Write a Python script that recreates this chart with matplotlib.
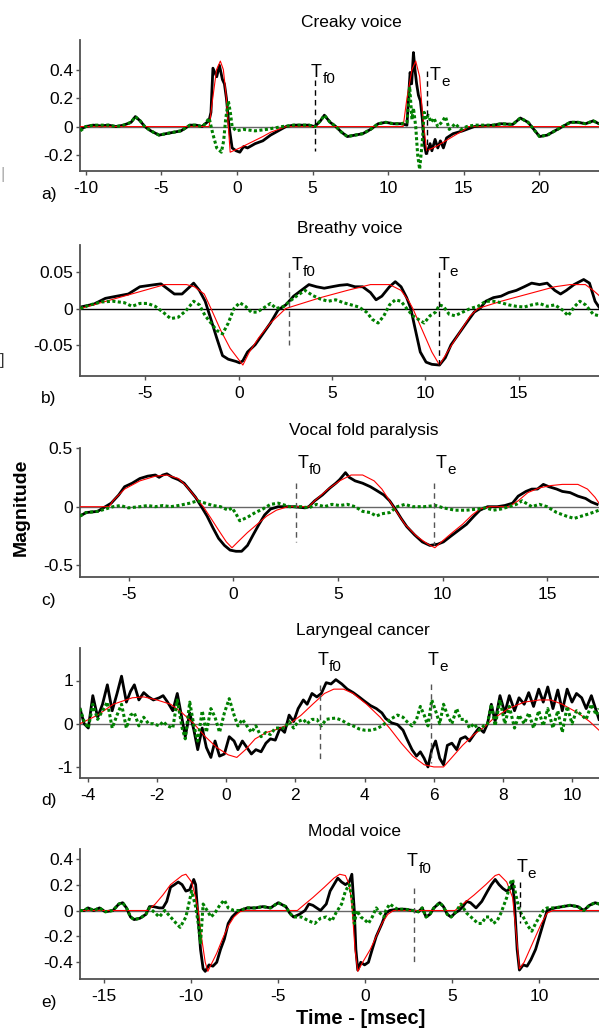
import matplotlib
matplotlib.use('Agg')
import matplotlib.pyplot as plt
from matplotlib.transforms import offset_copy

plt.rcParams['font.family'] = ['Liberation Sans', 'DejaVu Sans']
plt.rcParams['axes.unicode_minus'] = False

# ---------------- a) Creaky voice ----------------
t_a_black = [-10.36, -10.0, -9.5, -9.0, -8.5, -8.0, -7.5, -7.0, -6.72, -6.4, -6.1, -5.7, -5.15, -4.7, -4.2, -3.7,
             -3.11, -2.7, -2.3, -2.1, -1.85, -1.72, -1.59, -1.34, -1.16, -0.96, -0.83, -0.7, -0.52, -0.32, -0.06, 0.19,
             0.44, 0.7, 1.2, 1.71, 2.22, 2.73, 3.24, 3.74, 4.76, 5.14, 5.52, 5.78, 6.16, 6.54, 6.92, 7.3,
             7.81, 8.32, 8.83, 9.34, 9.84, 10.35, 10.86, 11.24, 11.37, 11.45, 11.55, 11.67, 11.77, 11.88, 12.0, 12.13,
             12.26, 12.38, 12.51, 12.64, 12.77, 12.89, 13.1, 13.28, 13.45, 13.65, 13.86, 14.29, 14.93, 15.69, 16.96, 17.47,
             18.23, 18.74, 19.25, 19.63, 20.01, 20.52, 21.02, 21.53, 22.04, 22.55, 23.05, 23.56, 23.94]
black_a = [-0.02, 0.0, 0.01, 0.005, 0.01, 0.0, 0.01, 0.03, 0.07, 0.04, 0.0, -0.03, -0.06, -0.05, -0.04, -0.03,
           0.01, 0.01, 0.0, 0.02, 0.04, 0.1, 0.41, 0.35, 0.43, 0.33, 0.3, 0.2, 0.0, -0.15, -0.17, -0.18,
           -0.14, -0.15, -0.12, -0.1, -0.06, -0.03, 0.0, 0.01, 0.01, 0.0, 0.04, 0.08, 0.03, 0.0, -0.04, -0.07,
           -0.06, -0.05, -0.02, 0.02, 0.03, 0.02, 0.02, 0.01, 0.25, 0.38, 0.3, 0.52, 0.4, 0.3, 0.22, 0.18,
           0.05, -0.12, -0.19, -0.16, -0.12, -0.17, -0.09, -0.15, -0.1, -0.15, -0.08, -0.05, -0.03, 0.0, 0.01, 0.02,
           0.015, 0.06, 0.03, -0.02, -0.07, -0.06, -0.03, 0.0, 0.03, 0.03, 0.02, 0.04, 0.02]
t_a_red = [-10.4, -1.84, -1.6, -1.35, -1.1, -0.9, -0.7, -0.57, -0.45, 0.19, 0.95, 1.71, 2.22, 2.73, 3.24,
           10.99, 11.24, 11.57, 11.82, 12.08, 12.26, 12.54, 13.16, 13.8, 14.43, 15.07, 15.3, 24.0]
red_a = [0, 0, 0.2, 0.4, 0.46, 0.4, 0.2, 0.0, -0.18, -0.15, -0.11, -0.07, -0.04, -0.02, 0,
         0, 0.2, 0.4, 0.46, 0.35, 0.1, -0.17, -0.14, -0.1, -0.06, -0.02, 0, 0]
t_a_green = [-10.36, -10.0, -9.5, -9.0, -8.5, -8.0, -7.5, -7.0, -6.72, -6.4, -6.1, -5.7, -5.15, -4.7, -4.2, -3.7,
             -3.11, -2.7, -2.3, -2.1, -1.84, -1.6, -1.34, -1.03, -0.88, -0.75, -0.57, -0.44, -0.32, -0.06, 0.44, 1.2,
             1.96, 2.47, 2.98, 3.74, 4.76, 5.14, 5.52, 5.78, 6.16, 6.54, 6.92, 7.3, 7.81, 8.32, 8.83, 9.34,
             9.84, 10.35, 10.86, 11.24, 11.37, 11.42, 11.57, 11.67, 11.82, 11.95, 12.08, 12.26, 12.38, 12.51, 12.64, 12.84,
             13.02, 13.28, 13.53, 13.79, 14.04, 14.43, 14.81, 15.19, 15.69, 16.96, 17.47, 18.23, 18.74, 19.25, 19.63, 20.01,
             20.52, 21.02, 21.53, 22.04, 22.55, 23.05, 23.56, 23.94]
green_a = [-0.03, 0.0, 0.01, 0.01, 0.01, 0.0, 0.01, 0.03, 0.07, 0.04, 0.0, -0.03, -0.06, -0.05, -0.04, -0.03,
           0.01, 0.01, 0.0, 0.02, 0.06, -0.05, -0.15, -0.18, -0.1, 0.05, 0.18, 0.1, 0.0, -0.03, -0.02, -0.03,
           -0.02, -0.01, 0.0, 0.01, 0.01, 0.0, 0.04, 0.08, 0.03, 0.0, -0.04, -0.07, -0.06, -0.05, -0.02, 0.02,
           0.03, 0.02, 0.02, 0.03, 0.2, 0.28, 0.05, 0.13, 0.0, -0.2, -0.3, -0.1, 0.1, 0.05, 0.08, 0.03,
           0.06, 0.0, 0.03, 0.07, -0.02, 0.02, -0.02, 0.0, 0.01, 0.01, 0.02, 0.015, 0.06, 0.03, -0.02, -0.07,
           -0.06, -0.03, 0.0, 0.03, 0.03, 0.02, 0.04, 0.02]

# ---------------- b) Breathy voice ----------------
t_b_black = [-8.49, -7.77, -7.15, -6.54, -5.92, -5.3, -4.48, -4.17, -3.86, -3.45, -3.04, -2.62, -2.42, -2.11, -1.8, -1.49,
             -1.19, -0.87, -0.56, -0.15, 0.05, 0.22, 0.47, 0.88, 1.29, 1.7, 2.11, 2.52, 2.94, 3.35, 3.76, 4.17,
             4.58, 4.99, 5.41, 5.82, 6.23, 6.64, 7.06, 7.36, 7.67, 8.08, 8.39, 8.7, 9.0, 9.22, 9.43, 9.73,
             10.04, 10.35, 10.76, 11.07, 11.38, 11.79, 12.2, 12.62, 12.93, 13.24, 13.65, 14.06, 14.47, 14.88, 15.3, 15.7,
             16.12, 16.53, 16.94, 17.25, 17.56, 17.97, 18.49, 18.8, 19.1, 19.31]
black_b = [0.002, 0.006, 0.014, 0.017, 0.02, 0.03, 0.033, 0.034, 0.028, 0.02, 0.02, 0.03, 0.035, 0.025, 0.01, -0.015,
           -0.04, -0.065, -0.07, -0.073, -0.075, -0.072, -0.06, -0.05, -0.035, -0.02, -0.002, 0.005, 0.017, 0.025, 0.033, 0.03,
           0.028, 0.03, 0.032, 0.033, 0.03, 0.03, 0.022, 0.012, 0.017, 0.03, 0.037, 0.03, 0.015, 0.0, -0.025, -0.06,
           -0.074, -0.077, -0.078, -0.068, -0.05, -0.035, -0.02, -0.005, 0.0, 0.01, 0.015, 0.017, 0.022, 0.025, 0.03, 0.035,
           0.033, 0.035, 0.025, 0.02, 0.025, 0.033, 0.04, 0.035, 0.01, 0.002]
t_b_red = [-8.49, -3.96, -2.8, -2.38, -1.85, -1.49, -0.97, -0.46, 0.22, 0.57, 1.08, 1.7, 2.52, 4.38, 5.82, 7.06,
           8.08, 8.7, 9.12, 9.33, 9.84, 10.35, 10.76, 11.18, 11.79, 12.41, 12.82, 14.06, 15.5, 16.94, 17.76, 18.58,
           19.0, 19.31]
red_b = [0.0, 0.033, 0.033, 0.03, 0.02, 0.0, -0.03, -0.055, -0.078, -0.06, -0.04, -0.02, 0.0, 0.015, 0.025, 0.033,
         0.033, 0.025, 0.01, 0.0, -0.03, -0.06, -0.078, -0.06, -0.035, -0.01, 0.0, 0.01, 0.02, 0.03, 0.033, 0.033,
         0.025, 0.018]
t_b_green = [-8.49, -7.98, -7.36, -6.74, -6.13, -5.72, -5.3, -4.89, -4.48, -4.06, -3.65, -3.24, -2.83, -2.42, -2.11, -1.8,
             -1.49, -1.19, -0.87, -0.56, -0.26, 0.05, 0.36, 0.67, 0.98, 1.29, 1.7, 2.01, 2.42, 2.73, 3.14, 3.55,
             3.96, 4.38, 4.79, 5.2, 5.61, 6.03, 6.44, 6.85, 7.16, 7.47, 7.78, 8.08, 8.39, 8.7, 9.0, 9.33,
             9.63, 9.94, 10.25, 10.55, 10.76, 10.97, 11.28, 11.59, 12.0, 12.41, 12.82, 13.24, 13.65, 14.06, 14.47, 14.88,
             15.3, 15.7, 16.12, 16.53, 16.94, 17.35, 17.66, 17.97, 18.28, 18.59, 19.0, 19.31]
green_b = [0.0, 0.005, 0.009, 0.01, 0.008, 0.003, 0.007, 0.007, 0.003, -0.005, -0.014, -0.012, -0.003, 0.01, 0.005, -0.01,
           -0.02, -0.03, -0.035, -0.02, 0.0, 0.008, 0.003, -0.005, -0.005, 0.0, 0.007, 0.0, 0.003, 0.01, 0.018, 0.025,
           0.018, 0.013, 0.01, 0.012, 0.008, 0.005, 0.002, -0.005, -0.015, -0.02, -0.01, 0.005, 0.012, 0.01, 0.0, -0.01,
           -0.015, -0.02, -0.01, -0.005, 0.005, 0.003, -0.008, -0.01, -0.005, 0.0, 0.003, 0.01, 0.01, 0.008, 0.005, 0.003,
           0.002, 0.005, 0.007, 0.003, 0.005, -0.002, -0.01, 0.002, 0.01, 0.005, -0.008, -0.01]

# ---------------- c) Vocal fold paralysis ----------------
t_c_black = [-7.32, -7.03, -6.48, -6.11, -5.83, -5.47, -5.19, -4.83, -4.46, -4.09, -3.72, -3.54, -3.36, -3.17, -2.9, -2.62,
             -2.35, -2.07, -1.8, -1.52, -1.25, -0.97, -0.7, -0.42, -0.15, 0.13, 0.4, 0.68, 0.95, 1.23, 1.5, 1.78,
             2.15, 2.88, 3.43, 3.61, 3.89, 4.26, 4.62, 4.9, 5.08, 5.36, 5.54, 5.82, 6.18, 6.55, 6.83, 7.19,
             7.47, 7.74, 8.02, 8.29, 8.66, 9.03, 9.39, 9.76, 10.04, 10.4, 10.77, 11.14, 11.5, 11.78, 12.15, 12.61,
             12.97, 13.34, 13.61, 13.98, 14.26, 14.53, 14.81, 15.08, 15.45, 15.72, 16.09, 16.46, 16.83, 17.1, 17.38]
black_c = [-0.08, -0.05, -0.04, 0.0, 0.03, 0.1, 0.17, 0.2, 0.24, 0.26, 0.27, 0.25, 0.27, 0.28, 0.25, 0.23,
           0.2, 0.14, 0.08, 0.0, -0.08, -0.18, -0.27, -0.33, -0.37, -0.38, -0.38, -0.33, -0.24, -0.15, -0.07, -0.02,
           0.0, 0.0, -0.01, 0.0, 0.05, 0.1, 0.16, 0.2, 0.23, 0.29, 0.25, 0.22, 0.2, 0.17, 0.14, 0.1,
           0.05, -0.02, -0.1, -0.17, -0.24, -0.3, -0.33, -0.32, -0.3, -0.25, -0.2, -0.15, -0.08, -0.03, 0.0, 0.0,
           0.01, 0.03, 0.09, 0.13, 0.15, 0.15, 0.19, 0.17, 0.15, 0.13, 0.12, 0.09, 0.07, 0.04, 0.02]
t_c_red = [-7.32, -5.93, -5.75, -5.19, -4.46, -3.72, -3.17, -2.62, -2.26, -1.8, -1.43, -1.06, -0.7, -0.33, -0.06, 0.22,
           0.68, 1.14, 1.6, 2.06, 2.61, 3.61, 3.89, 4.53, 5.08, 5.63, 6.18, 6.73, 7.1, 7.47, 7.83, 8.2,
           8.75, 9.3, 9.63, 9.94, 10.4, 10.95, 11.41, 11.78, 12.24, 13.16, 13.61, 14.07, 14.62, 15.17, 15.72, 16.46,
           16.92, 17.28, 17.47]
red_c = [0.0, 0.0, 0.05, 0.15, 0.22, 0.26, 0.27, 0.24, 0.18, 0.08, 0.0, -0.1, -0.2, -0.3, -0.35, -0.3,
         -0.22, -0.15, -0.08, -0.03, 0.0, 0.0, 0.05, 0.15, 0.22, 0.27, 0.27, 0.22, 0.15, 0.05, -0.05, -0.15,
         -0.25, -0.32, -0.35, -0.3, -0.23, -0.15, -0.07, -0.02, 0.0, 0.0, 0.05, 0.12, 0.16, 0.18, 0.19, 0.19,
         0.15, 0.08, 0.03]
t_c_green = [-7.32, -7.03, -6.48, -6.11, -5.74, -5.38, -5.01, -4.46, -4.09, -3.72, -3.36, -2.99, -2.62, -2.07, -1.71, -1.34,
             -0.97, -0.61, -0.24, -0.06, 0.13, 0.31, 0.68, 1.05, 1.41, 1.78, 2.15, 2.7, 3.25, 3.61, 3.98, 4.35,
             4.72, 5.08, 5.45, 5.82, 6.18, 6.55, 6.83, 7.1, 7.47, 7.83, 8.2, 8.57, 9.12, 9.67, 10.04, 10.59,
             11.14, 11.69, 12.06, 12.42, 12.79, 13.16, 13.52, 13.8, 14.26, 14.62, 14.99, 15.45, 15.91, 16.28, 16.64, 17.01,
             17.47]
green_c = [-0.08, -0.05, -0.04, -0.02, 0.0, 0.01, -0.01, 0.0, 0.01, 0.0, 0.01, 0.0, 0.01, 0.03, 0.05, 0.03,
           0.01, 0.0, -0.03, -0.01, -0.06, -0.12, -0.09, -0.05, -0.02, 0.02, 0.03, 0.0, 0.0, -0.01, 0.02, 0.0,
           0.02, 0.01, 0.02, 0.0, -0.04, -0.05, -0.08, -0.06, -0.05, 0.0, 0.02, 0.0, 0.0, 0.01, -0.01, -0.03,
           -0.03, -0.02, -0.01, -0.03, -0.02, 0.0, 0.02, 0.05, 0.0, 0.02, 0.0, -0.05, -0.08, -0.1, -0.08, -0.06,
           -0.03]

# ---------------- d) Laryngeal cancer ----------------
t_d = [-4.22, -4.1, -3.98, -3.85, -3.71, -3.57, -3.43, -3.29, -3.15, -3.02, -2.88, -2.76, -2.65, -2.52, -2.38, -2.24,
       -2.1, -1.93, -1.82, -1.69, -1.54, -1.41, -1.27, -1.18, -1.05, -0.93, -0.82, -0.69, -0.57, -0.44, -0.32, -0.19,
       -0.05, 0.09, 0.23, 0.34, 0.47, 0.6, 0.73, 0.86, 1.01, 1.15, 1.28, 1.42, 1.56, 1.69, 1.82, 1.95,
       2.08, 2.23, 2.34, 2.48, 2.62, 2.75, 2.89, 3.03, 3.17, 3.34, 3.5, 3.67, 3.84, 4.0, 4.17, 4.34,
       4.5, 4.61, 4.78, 4.95, 5.11, 5.22, 5.37, 5.5, 5.61, 5.72, 5.83, 5.94, 6.05, 6.17, 6.28, 6.39,
       6.52, 6.66, 6.77, 6.91, 7.03, 7.16, 7.3, 7.44, 7.55, 7.66, 7.77, 7.91, 8.05, 8.18, 8.33, 8.46,
       8.61, 8.74, 8.88, 9.03, 9.16, 9.29, 9.44, 9.58, 9.71, 9.85, 9.99, 10.12, 10.27, 10.4, 10.55, 10.69,
       10.77]
black_d = [0.35, 0.0, -0.1, 0.65, 0.15, 0.45, 0.9, 0.3, 0.7, 1.1, 0.5, 0.75, 0.9, 0.55, 0.72, 0.62,
           0.55, 0.6, 0.65, 0.5, 0.3, 0.7, 0.1, -0.3, 0.25, -0.15, -0.6, -0.1, -0.55, -0.78, -0.4, -0.75,
           -0.7, -0.3, -0.4, -0.6, -0.4, -0.55, -0.7, -0.6, -0.65, -0.45, -0.35, -0.38, -0.1, -0.2, 0.2, 0.05,
           0.35, 0.55, 0.45, 0.7, 0.62, 0.7, 0.95, 0.92, 1.02, 0.92, 0.8, 0.72, 0.62, 0.52, 0.42, 0.35,
           0.25, 0.12, 0.02, -0.02, -0.15, -0.35, -0.6, -0.75, -0.65, -0.8, -1.0, -0.6, -0.4, -0.8, -0.95, -0.5,
           -0.45, -0.6, -0.35, -0.3, -0.4, -0.25, -0.1, -0.2, 0.0, 0.45, 0.05, 0.65, 0.25, 0.65, 0.3, 0.6,
           0.45, 0.72, 0.4, 0.8, 0.5, 0.85, 0.35, 0.78, 0.3, 0.8, 0.5, 0.7, 0.6, 0.35, 0.65, 0.3,
           0.1]
green_d = [0.35, 0.05, -0.1, 0.45, 0.1, 0.3, 0.5, -0.1, 0.2, 0.45, -0.1, 0.2, 0.25, -0.05, 0.15, 0.0,
           0.0, -0.05, 0.05, -0.05, -0.1, 0.55, -0.1, -0.35, 0.5, -0.05, -0.4, 0.3, -0.2, 0.35, 0.15, -0.2,
           0.25, 0.58, 0.2, -0.05, 0.1, -0.05, -0.2, -0.05, -0.3, -0.2, -0.25, -0.1, -0.1, -0.1, 0.05, -0.1,
           0.05, 0.1, 0.0, 0.1, 0.1, -0.05, 0.1, 0.12, 0.13, 0.08, 0.0, -0.05, -0.12, -0.15, -0.15, -0.12,
           -0.05, 0.02, 0.12, 0.2, 0.15, 0.05, -0.05, 0.1, 0.4, 0.2, -0.05, 0.55, 0.3, 0.0, 0.45, 0.2,
           0.0, 0.35, 0.1, 0.1, -0.1, 0.0, -0.15, -0.05, 0.0, 0.45, -0.05, 0.55, 0.0, 0.4, -0.1, 0.2,
           0.0, 0.25, -0.1, 0.3, -0.05, 0.35, -0.1, 0.3, -0.2, 0.4, 0.0, 0.3, 0.2, 0.1, 0.45, 0.2,
           0.35]
t_d_red = [-4.22, -3.71, -3.26, -2.71, -2.38, -2.04, -1.6, -1.27, -0.93, -0.6, -0.27, 0.06, 0.31, 0.56, 0.84, 1.17,
           1.51, 1.84, 2.17, 2.5, 2.84, 3.11, 3.39, 3.67, 4.06, 4.45, 4.72, 5.06, 5.39, 5.72, 6.0, 6.28,
           6.5, 6.83, 7.16, 7.5, 7.72, 8.16, 8.61, 9.05, 9.38, 9.71, 10.16, 10.5, 10.77]
red_d = [0.0, 0.2, 0.45, 0.6, 0.62, 0.56, 0.45, 0.25, 0.0, -0.3, -0.55, -0.72, -0.78, -0.6, -0.35, -0.2,
         -0.12, 0.0, 0.2, 0.45, 0.7, 0.8, 0.8, 0.7, 0.45, 0.15, -0.1, -0.45, -0.75, -0.95, -1.0, -1.0,
         -0.8, -0.5, -0.25, -0.05, 0.12, 0.35, 0.5, 0.55, 0.55, 0.45, 0.25, 0.05, -0.15]

# ---------------- e) Modal voice ----------------
t_e_black = [-16.35, -16.11, -15.89, -15.56, -15.23, -14.9, -14.46, -14.12, -13.9, -13.68, -13.45, -13.24, -12.91, -12.57, -12.36, -12.14,
             -11.8, -11.59, -11.37, -11.15, -10.92, -10.71, -10.49, -10.27, -10.05, -9.82, -9.71, -9.6, -9.43, -9.28, -9.16, -8.94,
             -8.72, -8.5, -8.28, -8.06, -7.84, -7.62, -7.4, -7.18, -6.74, -6.29, -5.85, -5.41, -4.97, -4.53, -4.31, -4.09,
             -3.76, -3.43, -3.21, -2.98, -2.76, -2.54, -2.21, -1.99, -1.77, -1.55, -1.33, -1.11, -0.89, -0.74, -0.6, -0.51,
             -0.4, -0.23, -0.01, 0.21, 0.43, 0.66, 0.99, 1.21, 1.43, 1.87, 2.31, 2.75, 3.08, 3.3, 3.52, 3.74,
             3.97, 4.3, 4.52, 4.74, 4.96, 5.18, 5.41, 5.63, 5.85, 6.07, 6.39, 6.72, 7.05, 7.27, 7.49, 7.71,
             7.93, 8.15, 8.38, 8.49, 8.6, 8.75, 8.88, 9.1, 9.32, 9.54, 9.81, 10.03, 10.25, 10.47, 10.91, 11.35,
             11.79, 12.24, 12.57, 12.9, 13.23, 13.45]
black_e = [0.0, 0.0, 0.02, 0.0, 0.02, -0.01, 0.0, 0.05, 0.06, 0.02, -0.05, -0.07, -0.06, -0.03, 0.03, 0.03,
           0.02, 0.02, 0.07, 0.18, 0.2, 0.22, 0.2, 0.15, 0.16, 0.24, 0.2, 0.0, -0.3, -0.45, -0.47, -0.42,
           -0.43, -0.4, -0.3, -0.22, -0.1, -0.05, -0.02, 0.0, 0.02, 0.02, 0.03, 0.02, 0.06, 0.03, -0.02, -0.05,
           -0.03, 0.0, 0.05, 0.04, 0.02, 0.0, 0.05, 0.15, 0.2, 0.25, 0.22, 0.2, 0.22, 0.28, 0.0, -0.3,
           -0.46, -0.4, -0.42, -0.4, -0.3, -0.2, -0.1, -0.02, 0.0, 0.01, 0.01, 0.0, -0.01, 0.02, -0.05, -0.03,
           0.02, 0.06, 0.03, -0.03, -0.05, -0.02, 0.0, 0.03, 0.07, 0.06, 0.02, 0.07, 0.15, 0.2, 0.24, 0.2,
           0.17, 0.15, 0.17, 0.22, 0.05, -0.3, -0.46, -0.42, -0.43, -0.38, -0.3, -0.2, -0.1, 0.0, 0.02, 0.03,
           0.04, 0.03, 0.0, 0.04, 0.06, 0.05]
t_e_red = [-16.35, -12.47, -12.03, -11.59, -11.15, -10.49, -10.27, -9.94, -9.71, -9.56, -9.38, -9.16, -9.01, -8.83, -8.5, -8.17,
           -7.84, -7.51, -7.18, -6.84, -3.87, -3.43, -2.98, -2.32, -1.77, -1.44, -1.11, -0.89, -0.74, -0.56, -0.4, -0.12,
           0.32, 0.66, 0.99, 1.32, 1.65, 5.18, 5.63, 6.28, 6.95, 7.49, 7.71, 8.15, 8.49, 8.71, 8.88, 9.15,
           9.48, 9.81, 10.14, 10.47, 10.8, 13.45]
red_e = [0.0, 0.0, 0.05, 0.12, 0.2, 0.27, 0.28, 0.22, 0.1, 0.0, -0.2, -0.4, -0.47, -0.42, -0.33, -0.22,
         -0.12, -0.05, -0.01, 0.0, 0.0, 0.05, 0.1, 0.18, 0.25, 0.28, 0.27, 0.2, 0.05, -0.3, -0.47, -0.4,
         -0.3, -0.2, -0.1, -0.03, 0.0, 0.0, 0.05, 0.12, 0.2, 0.27, 0.28, 0.22, 0.1, -0.2, -0.45, -0.4,
         -0.3, -0.2, -0.1, -0.02, 0.0, 0.0]
t_e_green = [-16.35, -16.11, -15.89, -15.56, -15.23, -14.9, -14.46, -14.12, -13.9, -13.68, -13.45, -13.24, -12.91, -12.57, -12.36, -12.03,
             -11.8, -11.48, -11.15, -10.82, -10.6, -10.27, -9.94, -9.71, -9.56, -9.43, -9.28, -9.05, -8.83, -8.61, -8.28, -8.06,
             -7.84, -7.51, -7.18, -6.74, -6.29, -5.85, -5.41, -4.97, -4.53, -4.31, -4.09, -3.87, -3.65, -3.21, -2.87, -2.54,
             -2.21, -1.88, -1.66, -1.33, -1.11, -0.89, -0.74, -0.6, -0.45, -0.23, -0.01, 0.21, 0.43, 0.66, 0.88, 1.1,
             1.21, 1.43, 1.87, 2.31, 2.75, 3.08, 3.3, 3.52, 3.74, 3.97, 4.3, 4.52, 4.74, 4.96, 5.18, 5.52,
             5.85, 6.18, 6.5, 6.72, 6.95, 7.16, 7.38, 7.6, 7.82, 8.15, 8.38, 8.49, 8.71, 8.88, 9.1, 9.37,
             9.59, 9.81, 10.03, 10.25, 10.47, 10.91, 11.35, 11.79, 12.24, 12.57, 12.9, 13.23, 13.45]
green_e = [0.0, 0.0, 0.02, 0.0, 0.02, -0.01, 0.0, 0.05, 0.06, 0.02, -0.05, -0.07, -0.06, -0.03, 0.02, -0.02,
           -0.05, 0.0, -0.05, -0.1, -0.13, -0.05, 0.15, 0.03, -0.1, -0.25, 0.05, 0.0, -0.05, -0.02, 0.05, 0.08,
           0.02, 0.0, 0.0, 0.02, 0.02, 0.03, 0.02, 0.06, 0.03, -0.02, -0.05, -0.05, -0.05, -0.08, -0.1, -0.06,
           -0.05, -0.08, -0.02, 0.05, 0.15, 0.2, 0.1, -0.1, 0.0, -0.05, -0.07, -0.1, -0.05, 0.02, -0.02, -0.05,
           0.0, 0.05, 0.01, 0.01, 0.0, -0.01, 0.02, -0.05, -0.03, 0.02, 0.06, 0.03, -0.03, -0.05, -0.02, 0.05,
           -0.02, -0.06, -0.1, -0.1, -0.05, -0.05, -0.1, -0.08, -0.02, 0.1, 0.22, 0.24, 0.1, 0.0, -0.05, -0.12,
           -0.16, -0.1, -0.05, 0.0, 0.02, 0.02, 0.03, 0.04, 0.03, 0.0, 0.04, 0.06, 0.05]

titles = ['Creaky voice', 'Breathy voice', 'Vocal fold paralysis', 'Laryngeal cancer', 'Modal voice']
letters = ['a)', 'b)', 'c)', 'd)', 'e)']
xticks = [[-10, -5, 0, 5, 10, 15, 20], [-5, 0, 5, 10, 15], [-5, 0, 5, 10, 15],
          [-4, -2, 0, 2, 4, 6, 8, 10], [-15, -10, -5, 0, 5, 10]]
yticks = [[-0.2, 0, 0.2, 0.4], [-0.05, 0, 0.05], [-0.5, 0, 0.5], [-1, 0, 1], [-0.4, -0.2, 0, 0.2, 0.4]]
yticklabels = [['-0.2', '0', '0.2', '0.4'], ['-0.05', '0', '0.05'], ['-0.5', '0', '0.5'],
               ['-1', '0', '1'], ['-0.4', '-0.2', '0', '0.2', '0.4']]
# T_f0 and T_e markers: x position, top and bottom of the dashed line
tf0_mark = [(5.14, 0.33, -0.17), (2.69, 0.05, -0.05), (2.99, 0.2, -0.3), (2.7, 0.9, -0.88), (2.8, 0.17, -0.41)]
te_mark = [(12.54, 0.39, -0.19), (10.76, 0.05, -0.078), (9.58, 0.2, -0.33), (5.91, 0.92, -0.9), (8.93, 0.22, -0.1)]

panels = [
    (t_a_black, black_a, t_a_red, red_a, t_a_green, green_a),
    (t_b_black, black_b, t_b_red, red_b, t_b_green, green_b),
    (t_c_black, black_c, t_c_red, red_c, t_c_green, green_c),
    (t_d, black_d, t_d_red, red_d, t_d, green_d),
    (t_e_black, black_e, t_e_red, red_e, t_e_green, green_e),
]

# layout (pixels)
W, H = 599, 1030
left_px, right_px = 80, 599
rows_px = [(40, 171), (245, 376), (448, 577), (648, 778), (849, 979)]
xlims = [(-10.38, 23.94), (-8.51, 19.31), (-7.32, 17.47), (-4.22, 10.77), (-16.35, 13.45)]
ylims = [(-0.312, 0.608), (-0.0931, 0.0876), (-0.599, 0.5), (-1.256, 1.752), (-0.529, 0.475)]
title_x = [0.522, 0.52, 0.547, 0.545, 0.528]
tf0_text = [(4.9, 0.35), (2.83, 0.053), (3.06, 0.333), (2.64, 1.36), (2.42, 0.34)]
te_text = [(12.77, 0.33), (10.7, 0.053), (9.67, 0.333), (5.83, 1.36), (8.7, 0.3)]
tf0_col = ['black', '#555555', '#555555', '#555555', '#555555']
te_col = ['black', 'black', '#555555', '#555555', 'black']

fig = plt.figure(figsize=(W / 100, H / 100), dpi=100)


def t_label(ax, x, y, sub):
    # "T" with a large lowered subscript, as in the original
    ax.text(x, y, 'T', fontsize=13, va='baseline', ha='left', zorder=6)
    tr = offset_copy(ax.transData, fig=fig, x=8.2, y=-4.5, units='points')
    ax.text(x, y, sub, fontsize=11, va='baseline', ha='left', transform=tr, zorder=6)


for i in range(5):
    top, bot = rows_px[i]
    ax = fig.add_axes([left_px / W, 1 - bot / H, (right_px - left_px) / W, (bot - top) / H])
    tb, yb, tr, yr, tg, yg = panels[i]
    ax.axhline(0, color='black' if i == 1 else '#666666', lw=1, zorder=1)
    ax.plot(tb, yb, color='black', lw=2.0, zorder=2)
    ax.plot(tr, yr, color='red', lw=0.8, zorder=3)
    ax.plot(tg, yg, color='#008000', lw=2.2, linestyle=(0, (1, 0.8)), zorder=4)

    x, y0, y1 = tf0_mark[i]
    ax.plot([x, x], [y0, y1], color=tf0_col[i], lw=1, linestyle=(0, (4, 3)), zorder=5)
    x, y0, y1 = te_mark[i]
    ax.plot([x, x], [y0, y1], color=te_col[i], lw=1, linestyle=(0, (4, 3)), zorder=5)
    t_label(ax, tf0_text[i][0], tf0_text[i][1], 'f0')
    t_label(ax, te_text[i][0], te_text[i][1], 'e')

    ax.set_xlim(xlims[i])
    ax.set_ylim(ylims[i])
    ax.set_xticks(xticks[i])
    ax.set_xticklabels([str(v) for v in xticks[i]])
    ax.set_yticks(yticks[i])
    ax.set_yticklabels(yticklabels[i])
    for s in ['top', 'right']:
        ax.spines[s].set_visible(False)
    for s in ['left', 'bottom']:
        ax.spines[s].set_color('#505050')
        ax.spines[s].set_linewidth(1.3)
    ax.tick_params(direction='out', length=3, width=1, color='#505050', labelsize=12.5)
    ax.tick_params(axis='x', pad=4)
    ax.tick_params(axis='y', pad=2)
    ax.set_title(titles[i], fontsize=12.5, x=title_x[i], pad=9)
    fig.text(41 / W, 1 - (bot + 23) / H, letters[i], fontsize=12.5, va='center', ha='left')

fig.text(21 / W, 1 - 507 / H, 'Magnitude', fontsize=14, fontweight='bold', rotation=90,
         va='center', ha='center')
fig.text(361 / W, 1 - 1019 / H, 'Time - [msec]', fontsize=14.5, fontweight='bold', va='center', ha='center')
# clipped remnants at the left border of the original figure
fig.text(0 / W, 1 - 174 / H, '|', fontsize=12, color='#aaaaaa', va='center', ha='left')
fig.text(0 / W, 1 - 360 / H, ']', fontsize=12, color='#333333', va='center', ha='left')

fig.savefig('out.png', dpi=100)
